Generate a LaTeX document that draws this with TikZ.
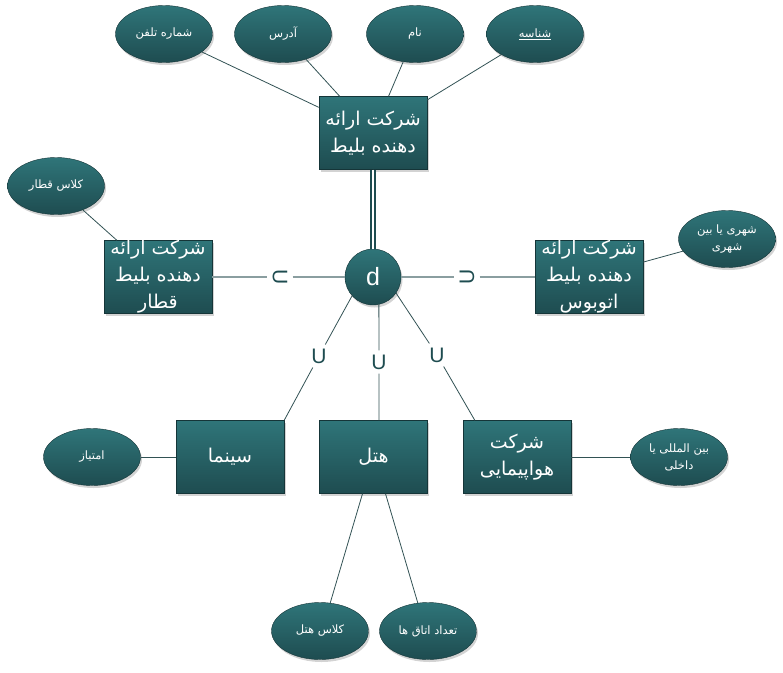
\documentclass[tikz,border=0pt]{standalone}
\usepackage{fontspec}
\usetikzlibrary{shapes.geometric,shadows}
\TeXXeTstate=1
\newfontfamily\fa[Script=Arabic]{DejaVu Sans}
\newfontfamily\lat{Liberation Sans}
\newcommand{\rtltxt}[1]{\beginR #1\endR}
\definecolor{tealtop}{RGB}{47,117,121}
\definecolor{tealbot}{RGB}{30,76,80}
\definecolor{linedark}{RGB}{50,82,84}
\definecolor{linegray}{RGB}{138,158,160}
\tikzset{
  boxshadow/.style={drop shadow={shadow xshift=1.5pt, shadow yshift=-2.5pt, opacity=0.35}},
  entity/.style={rectangle, draw=tealbot!70!black, top color=tealtop, bottom color=tealbot,
    minimum width=108pt, minimum height=73pt, inner sep=0pt, text=white, align=center,
    font=\fa\fontsize{19}{27}\selectfont, boxshadow},
  attrib/.style={ellipse, draw=tealbot!70!black, top color=tealtop, bottom color=tealbot,
    minimum width=97pt, minimum height=57pt, inner sep=0pt, text=white, align=center,
    font=\fa\fontsize{11.5}{17}\selectfont, boxshadow},
  conn/.style={linedark, line width=0.8pt},
  disj/.style={linegray, line width=1.8pt},
  setsym/.style={text=tealbot, font=\lat\fontsize{21}{21}\selectfont, inner sep=4pt}
}
\begin{document}
\begin{tikzpicture}[x=1pt, y=-1pt]
  \useasboundingbox (0,0) rectangle (783,672);
  % super class and its attributes
  \node[entity] (company) at (373,133) {\rtltxt{شرکت ارائه}\\\rtltxt{دهنده بلیط}};
  \node[attrib] (phone) at (164,34) {\rtltxt{شماره تلفن}};
  \node[attrib] (address) at (283,34) {\rtltxt{آدرس}};
  \node[attrib] (name) at (415,34) {\rtltxt{نام}};
  \node[attrib] (ident) at (535,34) {\underline{\rtltxt{شناسه}}};
  \foreach \a in {phone,address,name,ident}{
    \draw[conn] (\a) -- (company);
  }

  % disjoint circle
  \node[circle, draw=tealbot!70!black, top color=tealtop, bottom color=tealbot, minimum size=56pt,
    inner sep=0pt, text=white, font=\lat\fontsize{25}{25}\selectfont, boxshadow] (d) at (373,277) {d};
  \draw[tealbot, line width=1.6pt, double=white, double distance=2pt] (company) -- (d);

  % sub classes
  \node[entity] (train) at (158,277) {\rtltxt{شرکت ارائه}\\\rtltxt{دهنده بلیط}\\\rtltxt{قطار}};
  \node[entity] (bus) at (589,277) {\rtltxt{شرکت ارائه}\\\rtltxt{دهنده بلیط}\\\rtltxt{اتوبوس}};
  \node[entity] (cinema) at (230,457) {\rtltxt{سینما}};
  \node[entity] (hotel) at (373.5,457) {\rtltxt{هتل}};
  \node[entity] (airline) at (517,457) {\rtltxt{شرکت}\\\rtltxt{هواپیمایی}};

  % attributes of sub classes
  \node[attrib] (trainclass) at (56,186) {\rtltxt{کلاس قطار}};
  \node[attrib] (route) at (727,239) {\rtltxt{شهری یا بین}\\\rtltxt{شهری}};
  \node[attrib] (score) at (92,457) {\rtltxt{امتیاز}};
  \node[attrib] (flight) at (679,457) {\rtltxt{بین المللی یا}\\\rtltxt{داخلی}};
  \node[attrib] (hotelclass) at (320,631) {\rtltxt{کلاس هتل}};
  \node[attrib] (rooms) at (428,631) {\rtltxt{تعداد اتاق ها}};
  \draw[conn] (trainclass) -- (train);
  \draw[conn] (route) -- (bus);
  \draw[conn] (score) -- (cinema);
  \draw[conn] (flight) -- (airline);
  \draw[conn] ([xshift=-11pt]hotel.south) -- (hotelclass.70);
  \draw[conn] ([xshift=12pt]hotel.south) -- (rooms.110);

  % subset symbols
  \node[setsym, rotate=-90, inner sep=5pt] (sub1) at (280,277) {U};
  \node[setsym, rotate=90, inner sep=5pt] (sub2) at (467,277) {U};
  \node[setsym] (u1) at (319,356) {U};
  \node[setsym] (u2) at (379,362) {U};
  \node[setsym] (u3) at (437,355) {U};
  \draw[disj] (train) -- (sub1) -- (d);
  \draw[disj] (d) -- (sub2) -- (bus);
  \draw[conn] (d.-138) -- (u1) -- (cinema.north east);
  \draw[conn] (d.-78) -- (u2) -- (u2 |- hotel.north);
  \draw[conn] (d.-35) -- (u3) -- ([xshift=12pt]airline.north west);
\end{tikzpicture}
\end{document}
